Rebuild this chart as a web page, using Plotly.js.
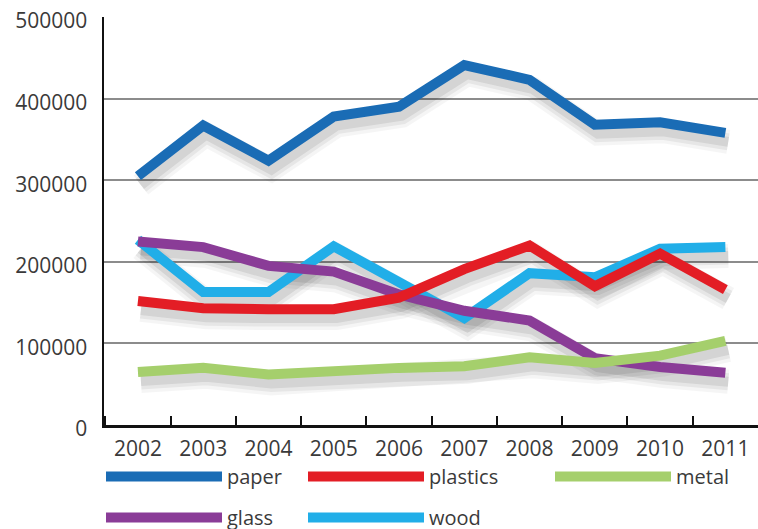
<!DOCTYPE html>
<html>
<head>
<meta charset="utf-8">
<script src="https://cdn.plot.ly/plotly-3.0.1.min.js"></script>
<style>
  html, body { margin: 0; padding: 0; background: #fff; }
  #chart { width: 758px; height: 529px; }
</style>
</head>
<body>
<div id="chart"></div>
<script>
// Years on the category axis
const years = ['2002', '2003', '2004', '2005', '2006', '2007', '2008', '2009', '2010', '2011'];

// Quantities per material
const paper    = [305000, 367000, 324000, 378000, 390000, 441000, 423000, 368000, 371000, 358000];
const plastics = [152000, 143000, 142000, 142000, 156000, 191000, 220000, 170000, 210000, 166000];
const metal    = [65000, 70000, 62000, 67000, 70000, 72000, 83000, 76000, 85000, 103000];
const glass    = [225000, 218000, 195000, 188000, 160000, 140000, 128000, 82000, 71000, 64000];
const wood     = [227000, 163000, 163000, 219000, 175000, 131000, 186000, 181000, 216000, 218000];

const yTicks = [0, 100000, 200000, 300000, 400000, 500000];

const FONT = '"Open Sans", "Noto Sans", sans-serif';
const TEXT = '#3a3a3a';

// visible scale, and a slightly shifted copy used to cast the soft shadows
const X_RANGE = [-0.52, 9.5];
const Y_RANGE = [0, 500000];
const SHADOW_DX = 0.045;   // in category units (about 3 px to the right)
const SHADOW_DY = 11000;   // in value units (about 9 px down)

const seriesList = [
  // drawing order: wood at the bottom, paper on top
  { name: 'wood',     y: wood,     color: '#21aee8', legend: 'legend2', rank: 5 },
  { name: 'glass',    y: glass,    color: '#8a3c97', legend: 'legend',  rank: 4 },
  { name: 'metal',    y: metal,    color: '#a5cf6c', legend: 'legend3', rank: 3 },
  { name: 'plastics', y: plastics, color: '#e31d25', legend: 'legend2', rank: 2 },
  { name: 'paper',    y: paper,    color: '#1a6cb5', legend: 'legend',  rank: 1 }
];

// layered translucent strokes on the shifted axes give a blurred drop shadow
const shadowLayers = [
  { width: 24, alpha: 0.04 },
  { width: 17, alpha: 0.06 },
  { width: 10, alpha: 0.08 }
];

const data = [];
seriesList.forEach(s => {
  shadowLayers.forEach(l => {
    data.push({
      type: 'scatter', mode: 'lines',
      x: years, y: s.y,
      xaxis: 'x', yaxis: 'y',
      line: { color: 'rgba(0,0,0,' + l.alpha + ')', width: l.width },
      showlegend: false, hoverinfo: 'skip'
    });
  });
});
seriesList.forEach(s => {
  data.push({
    type: 'scatter', mode: 'lines',
    name: s.name,
    x: years, y: s.y,
    xaxis: 'x2', yaxis: 'y2',
    legend: s.legend,
    legendgroup: s.name,
    legendrank: s.rank,
    line: { color: s.color, width: 10 },
    hoverinfo: 'x+y+name'
  });
});

function legendAt(xpx, ypx) {
  return {
    xref: 'container', yref: 'container',
    x: xpx / 758, y: 1 - ypx / 529,
    xanchor: 'left', yanchor: 'top',
    orientation: 'v',
    traceorder: 'grouped',
    itemwidth: 116,
    tracegroupgap: 12,
    bgcolor: 'rgba(0,0,0,0)',
    borderwidth: 0,
    font: { family: FONT, size: 20, color: TEXT }
  };
}

const layout = {
  width: 758,
  height: 529,
  margin: { l: 104, r: 0, t: 17, b: 104, autoexpand: false },
  paper_bgcolor: '#ffffff',
  plot_bgcolor: '#ffffff',
  showlegend: true,
  legend: legendAt(101, 457),
  legend2: legendAt(303, 457),
  legend3: legendAt(550, 457),
  // shadow axes (not shown)
  xaxis: {
    type: 'category', categoryorder: 'array', categoryarray: years,
    range: [X_RANGE[0] - SHADOW_DX, X_RANGE[1] - SHADOW_DX],
    visible: false, fixedrange: true
  },
  yaxis: {
    range: [Y_RANGE[0] + SHADOW_DY, Y_RANGE[1] + SHADOW_DY],
    visible: false, fixedrange: true
  },
  // visible axes
  xaxis2: {
    type: 'category', categoryorder: 'array', categoryarray: years,
    overlaying: 'x', anchor: 'y2', side: 'bottom',
    range: X_RANGE,
    showgrid: false,
    zeroline: false,
    showline: true,
    linecolor: '#111111',
    linewidth: 2.5,
    ticks: 'inside',
    tickson: 'boundaries',
    ticklen: 9,
    tickwidth: 2,
    tickcolor: '#111111',
    tickangle: 0,
    ticklabelstandoff: 3,
    tickfont: { family: FONT, size: 21, color: TEXT },
    fixedrange: true
  },
  yaxis2: {
    overlaying: 'y', anchor: 'x2', side: 'left',
    range: Y_RANGE,
    tickmode: 'array',
    tickvals: yTicks,
    ticktext: yTicks.map(String),
    showgrid: true,
    gridcolor: '#8c8c8c',
    gridwidth: 2,
    zeroline: false,
    showline: true,
    linecolor: '#111111',
    linewidth: 2.5,
    ticks: '',
    ticklabelstandoff: 10,
    ticklabelshift: 4,
    tickfont: { family: FONT, size: 21, color: TEXT },
    fixedrange: true
  }
};

Plotly.newPlot('chart', data, layout, { displayModeBar: false, staticPlot: true });
</script>
</body>
</html>
